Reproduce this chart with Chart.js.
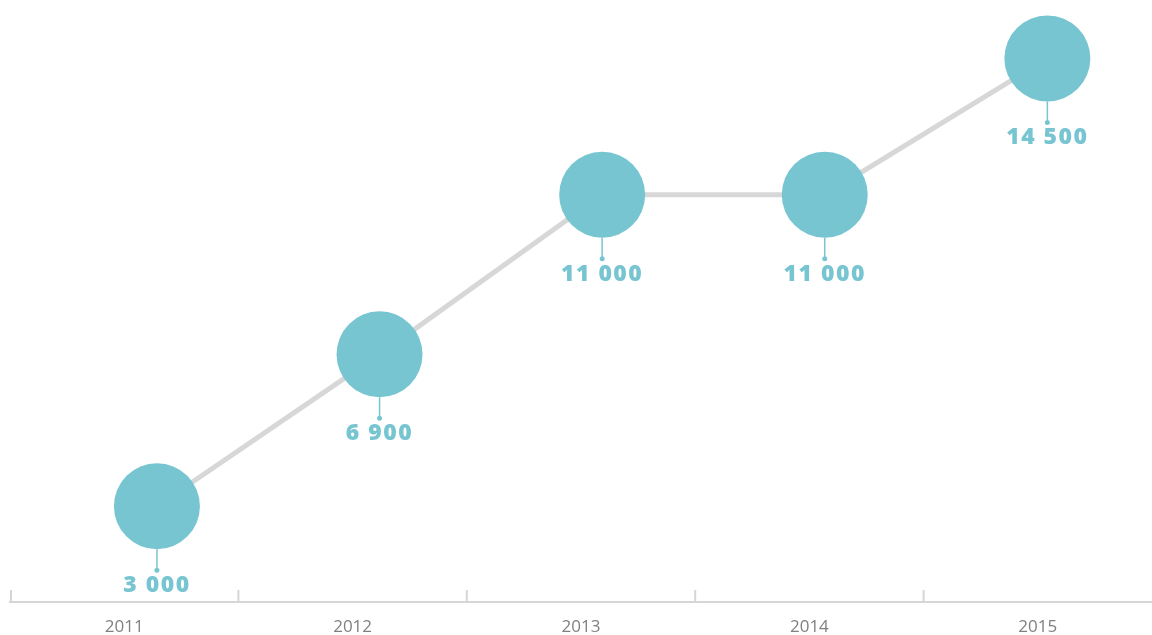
<!DOCTYPE html>
<html>
<head>
<meta charset="utf-8">
<script src="https://cdn.jsdelivr.net/npm/chart.js@4"></script>
<style>
  html, body { margin: 0; padding: 0; background: #fff; }
  #wrap { width: 1152px; height: 635px; }
</style>
</head>
<body>
<div id="wrap"><canvas id="growthChart"></canvas></div>
<script>
// Data
var years = [2011, 2012, 2013, 2014, 2015];
var yearLabels = ["2011", "2012", "2013", "2014", "2015"];
var values = [3000, 6900, 11000, 11000, 14500];
var valueLabels = ["3 000", "6 900", "11 000", "11 000", "14 500"];

var teal = "rgb(120, 197, 210)";
var lineGrey = "rgb(215, 215, 215)";
var axisGrey = "rgb(214, 214, 214)";
var labelGrey = "rgb(128, 128, 128)";
var bubbleRadius = 43;

var points = [];
for (var i = 0; i < years.length; ++i) {
    points.push({ x: years[i], y: values[i] });
}

// stem + dot + number under each bubble
var valueLabelPlugin = {
    id: "valueLabels",
    afterDatasetsDraw: function (chart) {
        var ctx = chart.ctx;
        var meta = chart.getDatasetMeta(0);
        ctx.save();
        ctx.strokeStyle = teal;
        ctx.fillStyle = teal;
        ctx.lineWidth = 1.5;
        ctx.font = "800 23px 'Open Sans'";
        ctx.textAlign = "center";
        ctx.textBaseline = "alphabetic";
        if ("letterSpacing" in ctx) ctx.letterSpacing = "1.5px";
        meta.data.forEach(function (pt, i) {
            ctx.beginPath();
            ctx.moveTo(pt.x, pt.y + bubbleRadius);
            ctx.lineTo(pt.x, pt.y + 64);
            ctx.stroke();
            ctx.beginPath();
            ctx.arc(pt.x, pt.y + 64, 2.5, 0, Math.PI * 2);
            ctx.fill();
            ctx.fillText(valueLabels[i], pt.x, pt.y + 86);
        });
        ctx.restore();
    }
};

// small upward tick marks on the band borders of the year axis
var axisTickPlugin = {
    id: "axisTicks",
    afterDraw: function (chart) {
        var scale = chart.scales.x;
        var ctx = chart.ctx;
        var y = chart.chartArea.bottom;
        ctx.save();
        ctx.strokeStyle = axisGrey;
        ctx.lineWidth = 2;
        for (var i = 0; i < yearLabels.length; ++i) {
            var x;
            if (i == 0) {
                x = chart.chartArea.left + 1;
            } else {
                x = (scale.getPixelForValue(i - 1) + scale.getPixelForValue(i)) / 2;
            }
            ctx.beginPath();
            ctx.moveTo(x, y);
            ctx.lineTo(x, y - 12);
            ctx.stroke();
        }
        ctx.restore();
    }
};

new Chart("growthChart", {
    type: "line",
    data: {
        labels: yearLabels,
        datasets: [{
            data: points,
            xAxisID: "xp",
            yAxisID: "y",
            borderColor: lineGrey,
            borderWidth: 5,
            pointRadius: bubbleRadius,
            pointHoverRadius: bubbleRadius,
            pointBackgroundColor: teal,
            pointBorderColor: teal,
            pointBorderWidth: 0,
            tension: 0,
            clip: false
        }]
    },
    options: {
        responsive: true,
        maintainAspectRatio: false,
        animation: false,
        events: [],
        layout: {
            autoPadding: false,
            padding: { left: 10, right: 0, top: 0, bottom: 0 }
        },
        plugins: {
            legend: { display: false },
            tooltip: { enabled: false }
        },
        scales: {
            x: {
                type: "category",
                position: "bottom",
                offset: true,
                grid: { display: false, drawTicks: false },
                border: { display: true, color: axisGrey, width: 2 },
                ticks: {
                    color: labelGrey,
                    padding: 17,
                    maxRotation: 0,
                    font: { family: "'Open Sans'", size: 17, lineHeight: 1 }
                },
                afterFit: function (scale) {
                    scale.height = 33;
                }
            },
            xp: {
                type: "linear",
                display: false,
                min: 2010.34,
                max: 2015.47
            },
            y: {
                type: "linear",
                display: false,
                min: 540,
                max: 16000
            }
        }
    },
    plugins: [valueLabelPlugin, axisTickPlugin]
});
</script>
</body>
</html>
